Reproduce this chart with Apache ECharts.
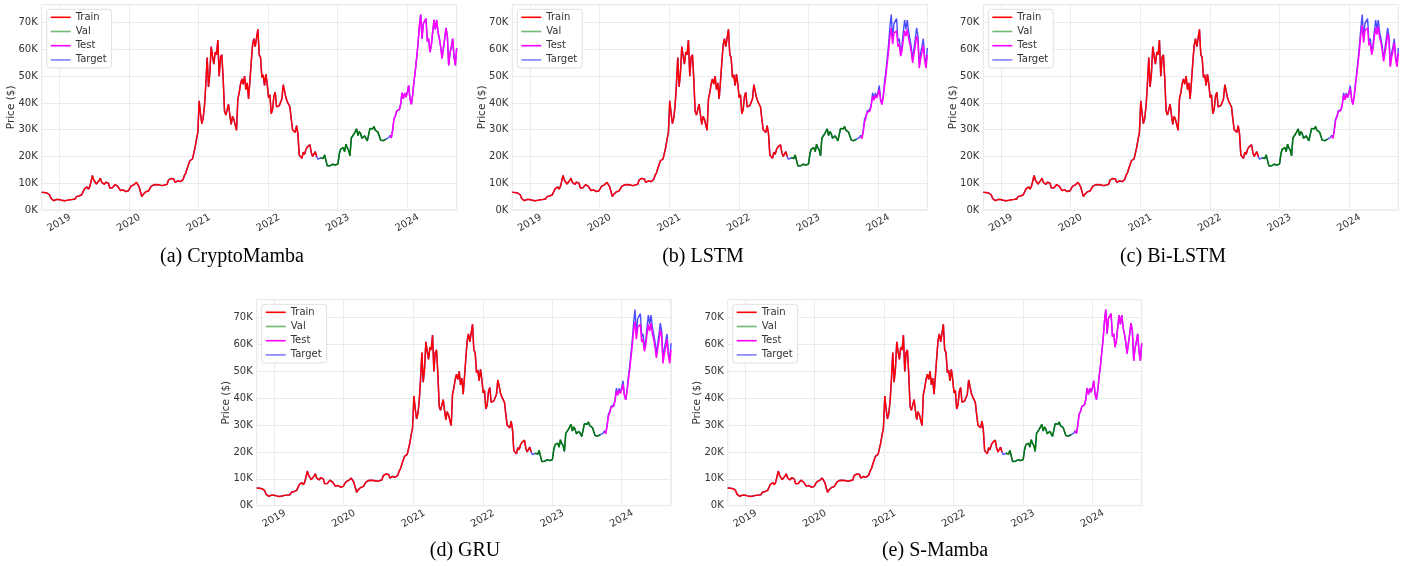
<!DOCTYPE html>
<html>
<head>
<meta charset="utf-8">
<script src="https://cdn.jsdelivr.net/npm/echarts@6/dist/echarts.min.js"></script>
<style>
  html, body { margin: 0; padding: 0; background: #fff; }
  #chart { width: 1415px; height: 566px; }
</style>
</head>
<body>
<div id="chart"></div>
<script>
// weekly BTC close (target), one value per Monday from 2018-10-01
const target2018 = [6600, 6300, 6500, 6450, 6350, 6400, 5600, 4300, 3900, 3500, 3250, 3900, 3850, 3900];
const target2019 = [3600, 3650, 3550, 3450, 3650, 3600, 3950, 3850, 3900, 3950, 4000, 4100, 5000, 5200, 5250, 5300,
  5700, 6300, 7900, 8000, 8600, 7800, 8700, 10700, 12900, 11200, 11400, 9700, 9500, 11000, 11900, 10300, 10200,
  9600, 10400, 10300, 10000, 8200, 8200, 8300, 8200, 9500, 9300, 8800, 8500, 7300, 7500, 7500, 7100, 6900, 7300, 7200];
const target2020 = [8100, 8900, 8600, 9400, 9800, 10300, 9700, 8600, 8900, 5000, 5800, 6500, 6800, 6900, 7100, 7500,
  8800, 9500, 9400, 9200, 9500, 9700, 9400, 9300, 9100, 9200, 9300, 9200, 9600, 11200, 11700, 11800, 11900, 11600,
  10300, 10300, 10900, 10700, 10600, 11300, 11400, 13000, 13800, 15500, 16000, 18400, 17700, 19100, 18800, 23500, 26500, 29000];
const target2021 = [40800, 36000, 32300, 34300, 39000, 47000, 57000, 46000, 51000, 61000, 57500, 54500, 59000, 58000,
  63500, 50000, 57000, 58000, 49000, 37000, 35500, 36000, 39500, 35500, 32000, 35000, 33800, 31800, 29800, 41500,
  43800, 47000, 49000, 47000, 50000, 45000, 47500, 41500, 48000, 55000, 61500, 64000, 61000, 61500, 67500, 58000,
  57000, 49500, 50500, 46500, 50800, 47000];
const target2022 = [42000, 43000, 36000, 37500, 42500, 44000, 38500, 38000, 39000, 38800, 41500, 46800, 47300, 42000,
  40500, 39500, 38500, 34000, 30000, 29500, 29000, 31500, 28500, 20500, 21000, 19300, 21600, 20800, 22600, 23500,
  23200, 24400, 21500, 20000, 19800, 21800, 20000, 19000, 19300, 19500, 19100, 19200, 20600, 21000, 16500, 16700,
  16500, 17100, 17100, 16800, 16800, 16600];
const target2023 = [17200, 20900, 22700, 23000, 23300, 21800, 24600, 23200, 22400, 20200, 26900, 27500, 28400, 28000,
  30300, 27800, 29300, 28500, 26800, 26800, 27700, 27200, 25800, 26300, 30500, 30500, 30300, 31200, 29800, 29300,
  29100, 29400, 26100, 26000, 25900, 25800, 26500, 26600, 27000, 27900, 26900, 29900, 34100, 35000, 37000, 36500,
  37500, 39500, 43800, 41500, 43700, 42200];
const target2024 = [44000, 46500, 41500, 39500, 43000, 48000, 52000, 51700, 62000, 68500, 73000, 64000, 69700, 69000,
  71500, 63000, 64000, 59000, 61500, 66500, 71000, 67500, 71000, 66500, 64000, 61000, 56600, 57000, 64000, 68000,
  65000, 54000, 58700, 61000, 64000, 57300, 54000, 60500];

// test-period predictions that visibly fall below the target peaks (from 2023-10-02)
const testLSTM = [27600, 26700, 29200, 33000, 34500, 36500, 36000, 37000, 39000, 42500, 41000, 42800, 41800,
  43200, 45000, 41000, 39400, 42300, 46500, 50500, 51000, 59500, 65000, 68000, 62000, 66000, 66500, 67000, 61000,
  62000, 57500, 59500, 63500, 67000, 65000, 67500, 64000, 62000, 59000, 55000, 55500, 61500, 65000, 63000, 53000,
  56500, 59000, 61500, 56000, 53000, 58000];
const testBiLSTM = [27700, 26800, 29500, 33500, 34700, 36700, 36200, 37200, 39200, 43000, 41200, 43200, 41900,
  43500, 45500, 41200, 39400, 42600, 47000, 51000, 51200, 60500, 66000, 69000, 62500, 67000, 67000, 68000, 61500,
  62500, 58000, 60000, 64500, 68000, 65500, 68500, 64500, 62500, 59500, 55500, 56000, 62000, 66000, 63500, 53500,
  57000, 59500, 62500, 56500, 53500, 58500];
const testGRU = [27700, 26800, 29400, 33200, 34600, 36600, 36100, 37100, 39100, 42800, 41100, 43000, 41800,
  43300, 45200, 41100, 39400, 42400, 46800, 50800, 51000, 60000, 65500, 68500, 62000, 66500, 66500, 67500, 61000,
  62000, 57500, 59500, 64000, 67500, 65000, 68000, 64000, 62000, 59000, 55000, 55500, 61500, 65500, 63000, 53000,
  56500, 59000, 62000, 56000, 53000, 58000];

const captions = ['(a) CryptoMamba', '(b) LSTM', '(c) Bi-LSTM', '(d) GRU', '(e) S-Mamba'];
const legendNames = ['Train', 'Val', 'Test', 'Target'];
const yTicks = [0, 10000, 20000, 30000, 40000, 50000, 60000, 70000];

const DAY = 864e5;
const target = [].concat(target2018, target2019, target2020, target2021, target2022, target2023, target2024);
const t0 = Date.UTC(2018, 9, 1);
const dates = target.map((_, i) => t0 + i * 7 * DAY);
const tEnd = dates[dates.length - 1];

const trainEnd = Date.UTC(2022, 8, 12);
const valStart = Date.UTC(2022, 9, 3);
const valEnd = Date.UTC(2023, 8, 11);
const testStart = Date.UTC(2023, 9, 2);

const pairs = (from, to) => dates.map((d, i) => [d, target[i]]).filter(p => p[0] >= from && p[0] <= to);
const testPairs = vals => dates.filter(d => d >= testStart).map((d, i) => [d, vals ? vals[i] : target[dates.indexOf(d)]]);

const testByModel = [null, testLSTM, testBiLSTM, testGRU, null];

// panel boxes [left, top, width, height]
const boxes = [
  [41.7, 4.7, 415, 205.3],
  [512.3, 4.7, 415, 205.3],
  [983.3, 4.7, 415, 205.3],
  [256.7, 299.7, 414.3, 206],
  [727.7, 299.7, 414, 206]
];
const captionPos = [[232, 257], [703, 257], [1173, 257], [465, 551], [935, 551]];

const font = 'DejaVu Sans';
const grid = [], xAxis = [], yAxis = [], series = [], legend = [], graphic = [];

boxes.forEach((b, k) => {
  grid.push({ left: b[0], top: b[1], width: b[2], height: b[3], show: true,
    borderColor: '#e3e3e3', borderWidth: 1, backgroundColor: '#fff' });
  xAxis.push({
    type: 'time', gridIndex: k, min: t0, max: tEnd,
    minInterval: 365 * DAY, maxInterval: 366 * DAY,
    axisLine: { show: false }, axisTick: { show: false },
    splitLine: { show: true, lineStyle: { color: '#ebebeb', width: 1 } },
    axisLabel: {
      rotate: 30, align: 'center', verticalAlign: 'middle', margin: 13,
      color: '#333', fontFamily: font, fontSize: 10,
      formatter: v => { const d = new Date(v); return (d.getUTCMonth() === 0 && d.getUTCDate() === 1) ? String(d.getUTCFullYear()) : ''; }
    }
  });
  yAxis.push({
    type: 'value', gridIndex: k, min: 0, max: 76700, interval: 10000,
    name: 'Price ($)', nameLocation: 'middle', nameGap: 25, nameMoveOverlap: false,
    nameTextStyle: { color: '#333', fontFamily: font, fontSize: 10.5 },
    axisLine: { show: false }, axisTick: { show: false },
    splitLine: { lineStyle: { color: '#ebebeb', width: 1 } },
    axisLabel: { color: '#333', fontFamily: font, fontSize: 10, margin: 4, showMaxLabel: false,
      formatter: v => yTicks.includes(v) ? (v / 1000) + 'K' : '' }
  });
  const base = { type: 'line', xAxisIndex: k, yAxisIndex: k, showSymbol: false, symbol: 'none',
    animation: false, emphasis: { disabled: true } };
  series.push(Object.assign({}, base, { name: 'Target', data: pairs(t0, tEnd), z: 1,
    itemStyle: { color: '#0000ff', opacity: 0.5 }, lineStyle: { color: '#0000ff', width: 1.4, opacity: 0.7 } }));
  series.push(Object.assign({}, base, { name: 'Train', data: pairs(t0, trainEnd), z: 2,
    itemStyle: { color: '#ff0000' }, lineStyle: { color: '#ff0000', width: 1.5 } }));
  series.push(Object.assign({}, base, { name: 'Val', data: pairs(valStart, valEnd), z: 2,
    itemStyle: { color: '#008000', opacity: 0.55 }, lineStyle: { color: '#007a00', width: 1.5 } }));
  series.push(Object.assign({}, base, { name: 'Test', data: testPairs(testByModel[k]), z: 2,
    itemStyle: { color: '#ff00ff' }, lineStyle: { color: '#ff00ff', width: 1.5 } }));
  legend.push({
    data: legendNames.map(n => ({ name: n, icon: 'rect' })),
    orient: 'vertical', left: b[0] + 5, top: b[1] + 4.6,
    itemWidth: 20, itemHeight: 1.6, itemGap: 4.2,
    padding: [3, 5, 3, 4], backgroundColor: '#fff', borderColor: '#e0e0e0', borderWidth: 1, borderRadius: 3,
    textStyle: { color: '#333', fontFamily: font, fontSize: 10 }, selectedMode: false
  });
  graphic.push({ type: 'text', x: captionPos[k][0], y: captionPos[k][1],
    style: { text: captions[k], fill: '#000', font: '20px "Liberation Serif"', textAlign: 'center', textVerticalAlign: 'middle' } });
});

const chart = echarts.init(document.getElementById('chart'), null, { renderer: 'canvas' });
chart.setOption({
  useUTC: true,
  animation: false,
  backgroundColor: '#fff',
  grid, xAxis, yAxis, series, legend, graphic
});
</script>
</body>
</html>
